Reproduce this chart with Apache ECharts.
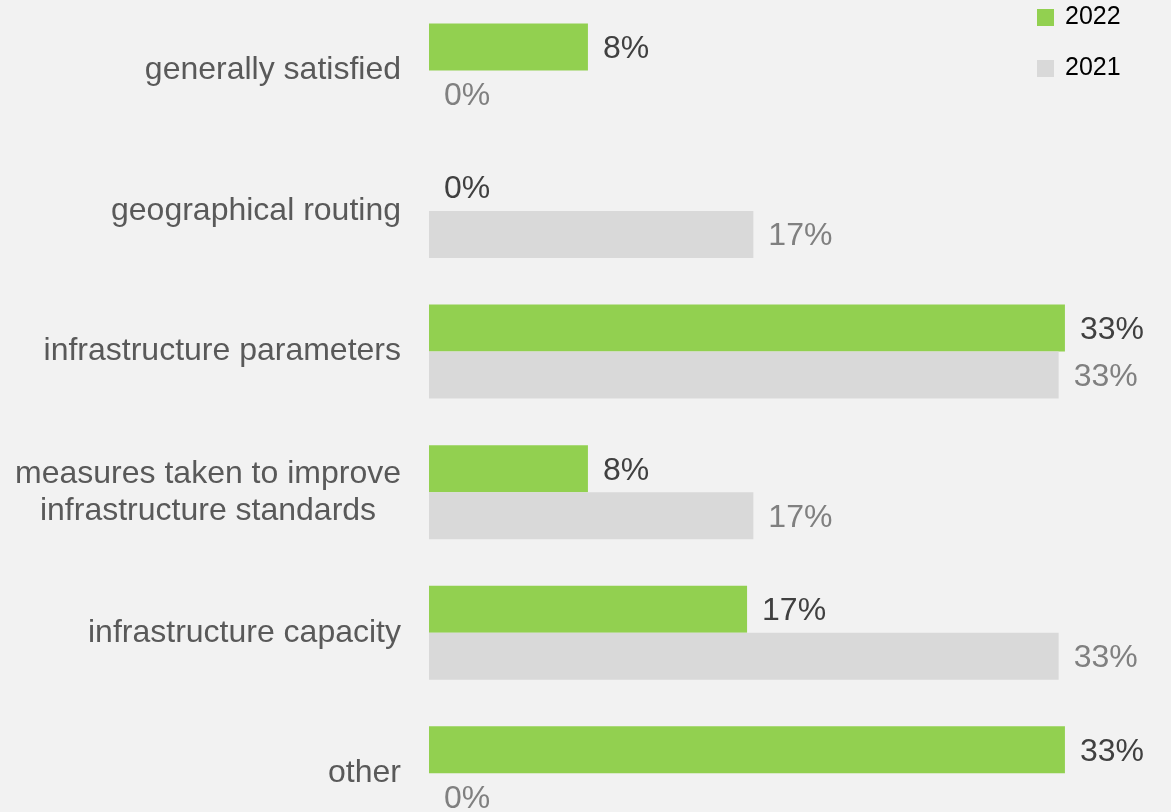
<!DOCTYPE html>
<html>
<head>
<meta charset="utf-8">
<script src="https://cdn.jsdelivr.net/npm/echarts@6/dist/echarts.min.js"></script>
<style>
html,body{margin:0;padding:0;background:#f2f2f2;}
#chart{width:1171px;height:812px;}
</style>
</head>
<body>
<div id="chart"></div>
<script>
const categories = [
  'generally satisfied',
  'geographical routing',
  'infrastructure parameters',
  'measures taken to improve\ninfrastructure standards',
  'infrastructure capacity',
  'other'
];
const seriesNames = ['2022', '2021'];
const values2022 = [8.33, 0, 33.33, 8.33, 16.67, 33.33];
const values2021 = [0, 17, 33, 17, 33, 0];

const FONT = '"Liberation Sans", Arial, sans-serif';
const chart = echarts.init(document.getElementById('chart'));
const pct = p => Math.round(p.value) + '%';

chart.setOption({
  backgroundColor: '#f2f2f2',
  animation: false,
  legend: {
    data: seriesNames,
    orient: 'vertical',
    left: 1037,
    top: 5,
    padding: 0,
    itemWidth: 17,
    itemHeight: 17,
    itemGap: 26,
    icon: 'rect',
    textStyle: { fontFamily: FONT, fontSize: 25, color: '#000', padding: [0, 0, 0, 6] }
  },
  grid: { left: 429, top: 0.2, width: 667.8, height: 843.4, containLabel: false, outerBoundsMode: 'none' },
  xAxis: {
    type: 'value', min: 0, max: 35, show: false
  },
  yAxis: {
    type: 'category',
    inverse: true,
    data: categories,
    axisLine: { show: false },
    axisTick: { show: false },
    splitLine: { show: false },
    axisLabel: {
      margin: 28,
      fontFamily: FONT,
      fontSize: 32,
      color: '#595959',
      lineHeight: 37,
      formatter: v => v.split('\n').map(s => '{c|' + s + '}').join('\n'),
      rich: { c: { align: 'center', fontFamily: FONT, fontSize: 32, color: '#595959', lineHeight: 37 } }
    }
  },
  series: [
    {
      name: seriesNames[0], type: 'bar', data: values2022,
      barWidth: 47, barGap: '0%',
      itemStyle: { color: '#92d050' },
      label: { show: true, position: 'right', distance: 15, offset: [0, 2], formatter: pct,
        fontFamily: FONT, fontSize: 32, color: '#404040' }
    },
    {
      name: seriesNames[1], type: 'bar', data: values2021,
      barWidth: 47, barGap: '0%',
      itemStyle: { color: '#d9d9d9' },
      label: { show: true, position: 'right', distance: 15, offset: [0, 2], formatter: pct,
        fontFamily: FONT, fontSize: 32, color: '#808080' }
    }
  ]
});
</script>
</body>
</html>
